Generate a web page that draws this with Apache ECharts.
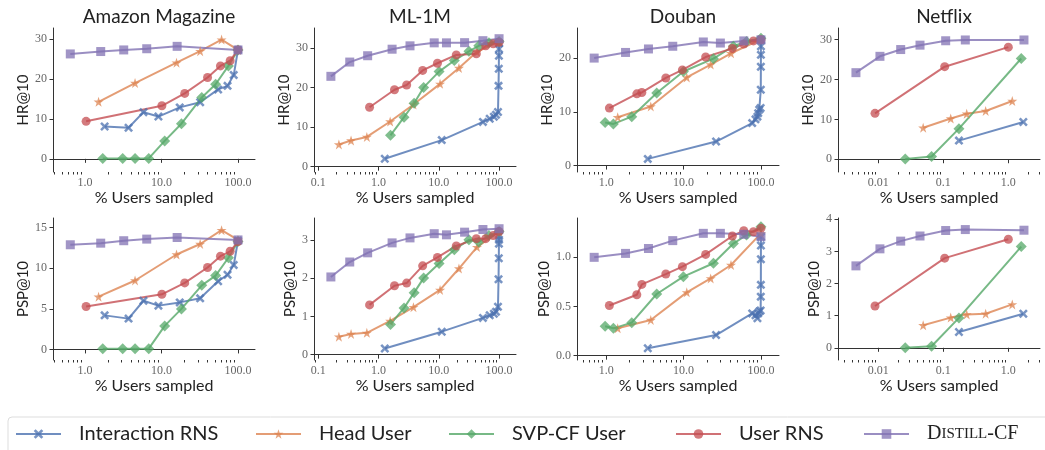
<!DOCTYPE html>
<html>
<head>
<meta charset="utf-8">
<script src="https://cdn.jsdelivr.net/npm/echarts@6/dist/echarts.min.js"></script>
<style>
html, body { margin: 0; padding: 0; background: #fff; }
#chart { width: 1045px; height: 450px; }
</style>
</head>
<body>
<div id="chart"></div>
<script>
// ---- data (x = % users sampled) ----
var methods = ['Interaction RNS', 'Head User', 'SVP-CF User', 'User RNS', 'Distill-CF'];
var datasets = ['Amazon Magazine', 'ML-1M', 'Douban', 'Netflix'];

// Amazon Magazine
var amazonInterX = [1.8, 3.7, 5.8, 9.1, 17.3, 32, 55, 73, 88, 100];
var amazonInterHR = [8.1, 7.8, 11.7, 10.6, 12.9, 14.2, 17.4, 18.3, 21.0, 27.3];
var amazonInterPSP = [4.2, 3.8, 6.0, 5.4, 5.8, 6.3, 8.4, 9.2, 10.4, 13.4];
var amazonHeadX = [1.5, 4.5, 15.7, 32, 61, 100];
var amazonHeadHR = [14.3, 19.0, 24.1, 27.0, 29.9, 27.3];
var amazonHeadPSP = [6.5, 8.5, 11.7, 13.0, 14.7, 13.5];
var amazonSvpX = [1.7, 3.1, 4.5, 6.8, 11.0, 18.2, 33.6, 51, 75, 100];
var amazonSvpHR = [0.1, 0.1, 0.1, 0.1, 4.5, 8.8, 15.4, 18.7, 23.3, 27.3];
var amazonSvpPSP = [0.1, 0.1, 0.1, 0.1, 2.9, 5.0, 7.9, 9.1, 11.3, 13.3];
var amazonUserX = [1.03, 10.1, 20.1, 40, 59, 79, 100];
var amazonUserHR = [9.4, 13.3, 16.4, 20.4, 23.3, 24.6, 27.3];
var amazonUserPSP = [5.3, 6.8, 8.2, 10.1, 11.5, 12.1, 13.3];
var amazonDistX = [0.64, 1.6, 3.2, 6.4, 16, 100];
var amazonDistHR = [26.3, 26.9, 27.3, 27.6, 28.2, 27.3];
var amazonDistPSP = [12.9, 13.1, 13.4, 13.6, 13.8, 13.5];

// ML-1M
var mlInterX = [1.27, 11.2, 54, 70, 82, 89, 96, 98, 99, 99.5, 99.8, 100];
var mlInterHR = [2.0, 6.7, 11.3, 12.1, 12.6, 13.1, 13.8, 20.4, 24.7, 28.0, 29.7, 31.2];
var mlInterPSP = [0.16, 0.6, 0.96, 1.03, 1.07, 1.12, 1.25, 1.97, 2.52, 2.9, 3.0, 3.1];
var mlHeadX = [0.22, 0.35, 0.64, 1.56, 3.8, 10.5, 21.6, 43, 100];
var mlHeadHR = [5.6, 6.6, 7.5, 11.4, 15.7, 20.9, 24.9, 29.0, 31.6];
var mlHeadPSP = [0.47, 0.54, 0.57, 0.88, 1.24, 1.69, 2.25, 2.81, 3.22];
var mlSvpX = [1.58, 2.65, 3.9, 5.6, 10.1, 18.1, 31.6, 46, 68, 100];
var mlSvpHR = [7.9, 12.5, 16.0, 20.0, 24.0, 26.8, 29.1, 30.5, 31.3, 31.6];
var mlSvpPSP = [0.79, 1.22, 1.62, 2.0, 2.38, 2.74, 3.0, 2.94, 3.11, 3.22];
var mlUserX = [0.71, 1.84, 2.93, 5.4, 9.5, 19.5, 42, 60, 80, 100];
var mlUserHR = [15.0, 19.4, 20.6, 24.3, 26.1, 28.2, 28.5, 30.5, 31.0, 31.4];
var mlUserPSP = [1.3, 1.8, 1.87, 2.32, 2.54, 2.84, 3.03, 3.03, 3.11, 3.22];
var mlDistX = [0.162, 0.333, 0.66, 1.68, 3.33, 8.4, 13.4, 26.8, 54, 100];
var mlDistHR = [22.8, 26.4, 28.0, 29.65, 30.5, 31.25, 31.25, 31.3, 31.8, 32.3];
var mlDistPSP = [2.03, 2.42, 2.66, 2.92, 3.05, 3.16, 3.13, 3.2, 3.27, 3.29];

// Douban
var doubanInterX = [3.45, 26.3, 77, 85, 90, 92, 95, 99, 99.5, 99.7, 99.8, 99.9, 100];
var doubanInterHR = [1.24, 4.47, 7.9, 8.6, 9.1, 9.75, 10.4, 10.7, 14.1, 18.4, 20.6, 22.2, 23.4];
var doubanInterPSP = [0.075, 0.21, 0.43, 0.41, 0.38, 0.43, 0.45, 0.46, 0.6, 0.72, 0.98, 1.12, 1.21];
var doubanHeadX = [1.41, 3.77, 11.0, 22.4, 41, 100];
var doubanHeadHR = [9.0, 11.0, 16.4, 18.8, 20.9, 23.5];
var doubanHeadPSP = [0.278, 0.363, 0.644, 0.786, 0.922, 1.244];
var doubanSvpX = [0.97, 1.24, 2.14, 4.5, 9.95, 24.3, 44, 65, 100];
var doubanSvpHR = [8.0, 7.75, 9.1, 13.5, 17.5, 19.9, 22.2, 23.1, 23.7];
var doubanSvpPSP = [0.30, 0.278, 0.336, 0.627, 0.803, 0.94, 1.14, 1.227, 1.31];
var doubanUserX = [1.1, 2.49, 2.89, 5.9, 9.66, 19.3, 42.7, 60, 80, 100];
var doubanUserHR = [10.7, 13.35, 13.6, 16.3, 17.8, 20.2, 21.8, 22.6, 23.2, 23.4];
var doubanUserPSP = [0.51, 0.62, 0.725, 0.83, 0.905, 1.03, 1.217, 1.27, 1.26, 1.295];
var doubanDistX = [0.70, 1.78, 3.52, 7.25, 18.0, 29.9, 60, 100];
var doubanDistHR = [20.0, 21.05, 21.7, 22.2, 23.0, 22.8, 23.2, 23.4];
var doubanDistPSP = [1.0, 1.04, 1.09, 1.17, 1.244, 1.244, 1.234, 1.21];

// Netflix
var netflixInterX = [0.174, 1.70];
var netflixInterHR = [4.67, 9.33];
var netflixInterPSP = [0.49, 1.06];
var netflixHeadX = [0.049, 0.13, 0.229, 0.448, 1.15];
var netflixHeadHR = [7.9, 10.2, 11.4, 12.1, 14.6];
var netflixHeadPSP = [0.70, 0.94, 1.04, 1.06, 1.35];
var netflixSvpX = [0.026, 0.066, 0.174, 1.58];
var netflixSvpHR = [0.08, 0.67, 7.67, 25.25];
var netflixSvpPSP = [0.0, 0.05, 0.93, 3.15];
var netflixUserX = [0.0089, 0.105, 1.0];
var netflixUserHR = [11.5, 23.2, 28.1];
var netflixUserPSP = [1.30, 2.79, 3.38];
var netflixDistX = [0.00453, 0.0106, 0.0221, 0.0438, 0.1087, 0.218, 1.74];
var netflixDistHR = [21.7, 25.8, 27.5, 28.6, 29.7, 29.9, 29.9];
var netflixDistPSP = [2.55, 3.08, 3.32, 3.48, 3.65, 3.68, 3.66];

// tick labels
var xMajor = [[1, 10, 100], [0.1, 1, 10, 100], [1, 10, 100], [0.01, 0.1, 1]];
var yTicksHR = [[0, 10, 20, 30], [0, 10, 20, 30], [0, 10, 20], [0, 10, 20, 30]];
var yTicksPSP = [[0, 5, 10, 15], [0, 1, 2, 3], [0, 0.5, 1.0], [0, 1, 2, 3, 4]];

// ---- layout ----
var colors = ['#4C72B0', '#DD8452', '#55A868', '#C44E52', '#8172B3'];
var SYM_X = 'path://M0,2L2,0L5,3L8,0L10,2L7,5L10,8L8,10L5,7L2,10L0,8L3,5Z';
var SYM_STAR = 'path://M50,0L61.8,35.5L99,35.5L69,57.5L80.3,93L50,71L19.7,93L31,57.5L1,35.5L38.2,35.5Z';
var symbols = [SYM_X, SYM_STAR, 'diamond', 'circle', 'rect'];
var symSizes = [9, 10, 11, 9, 9];

var colLeft = [53, 314, 577, 838];
var colWidth = 202;
var rowTop = [28, 218];
var rowHeight = [144, 142];
var xRange = [[0.38, 167], [0.085, 191], [0.42, 171], [0.0024, 3.07]];
var yRangeHR = [[-3.3, 32.8], [-1.35, 35], [-1.2, 25.6], [-3.2, 32.9]];
var yRangePSP = [[-1.3, 16.2], [-0.14, 3.57], [-0.044, 1.40], [-0.38, 4.04]];
var yNameGap = [[18, 17, 18, 19], [19, 13, 23, 13]];

var table = [
    { x: [amazonInterX, amazonHeadX, amazonSvpX, amazonUserX, amazonDistX],
      hr: [amazonInterHR, amazonHeadHR, amazonSvpHR, amazonUserHR, amazonDistHR],
      psp: [amazonInterPSP, amazonHeadPSP, amazonSvpPSP, amazonUserPSP, amazonDistPSP] },
    { x: [mlInterX, mlHeadX, mlSvpX, mlUserX, mlDistX],
      hr: [mlInterHR, mlHeadHR, mlSvpHR, mlUserHR, mlDistHR],
      psp: [mlInterPSP, mlHeadPSP, mlSvpPSP, mlUserPSP, mlDistPSP] },
    { x: [doubanInterX, doubanHeadX, doubanSvpX, doubanUserX, doubanDistX],
      hr: [doubanInterHR, doubanHeadHR, doubanSvpHR, doubanUserHR, doubanDistHR],
      psp: [doubanInterPSP, doubanHeadPSP, doubanSvpPSP, doubanUserPSP, doubanDistPSP] },
    { x: [netflixInterX, netflixHeadX, netflixSvpX, netflixUserX, netflixDistX],
      hr: [netflixInterHR, netflixHeadHR, netflixSvpHR, netflixUserHR, netflixDistHR],
      psp: [netflixInterPSP, netflixHeadPSP, netflixSvpPSP, netflixUserPSP, netflixDistPSP] }
];

function minorTicks(min, max) {
    var out = [];
    for (var k = -4; k <= 3; k++) {
        for (var m = 2; m <= 9; m++) {
            var v = m * Math.pow(10, k);
            if (v > min && v < max) out.push(v);
        }
    }
    return out;
}

function fmtX(v) {
    v = Number(v.toPrecision(6));
    return v < 1 ? String(v) : v.toFixed(1);
}

var grids = [], xAxes = [], yAxes = [], series = [], titles = [];
var axisColor = '#333';
var tickFont = { fontFamily: 'Liberation Serif', fontSize: 12, color: '#666' };
var nameFont = { fontFamily: 'Lato', fontSize: 16, color: '#222' };

for (var r = 0; r < 2; r++) {
    for (var c = 0; c < 4; c++) {
        var gi = r * 4 + c;
        grids.push({ left: colLeft[c], top: rowTop[r], width: colWidth, height: rowHeight[r] });

        // main log x axis
        xAxes.push({
            type: 'log', logBase: 10, gridIndex: gi, position: 'bottom',
            min: xRange[c][0], max: xRange[c][1],
            name: '% Users sampled', nameLocation: 'middle', nameGap: r === 0 ? 15 : 14,
            nameTextStyle: nameFont,
            axisLine: { lineStyle: { color: axisColor, width: 1 } },
            axisTick: { show: true, length: 4, lineStyle: { color: axisColor }, customValues: xMajor[c] },
            axisLabel: Object.assign({ margin: 5, customValues: xMajor[c], formatter: fmtX }, tickFont),
            splitLine: { show: false }
        });
        // minor ticks
        xAxes.push({
            type: 'log', logBase: 10, gridIndex: gi, position: 'bottom',
            min: xRange[c][0], max: xRange[c][1],
            axisLine: { show: false },
            axisTick: { show: true, length: 2.5, lineStyle: { color: axisColor }, customValues: minorTicks(xRange[c][0], xRange[c][1]) },
            axisLabel: { show: false },
            splitLine: { show: false }
        });

        var yr = r === 0 ? yRangeHR[c] : yRangePSP[c];
        var yt = r === 0 ? yTicksHR[c] : yTicksPSP[c];
        yAxes.push({
            type: 'value', gridIndex: gi,
            min: yr[0], max: yr[1],
            name: r === 0 ? 'HR@10' : 'PSP@10', nameLocation: 'middle', nameRotate: 90,
            nameGap: yNameGap[r][c],
            nameTextStyle: { fontFamily: 'Lato', fontSize: 15, color: '#222' },
            axisLine: { show: true, lineStyle: { color: axisColor, width: 1 } },
            axisTick: { show: true, length: 3.5, lineStyle: { color: axisColor }, customValues: yt },
            axisLabel: Object.assign({
                margin: 6, customValues: yt,
                formatter: (r === 1 && c === 2) ? function (v) { return v.toFixed(1); } : function (v) { return String(v); }
            }, tickFont),
            splitLine: { show: false }
        });

        var ys = r === 0 ? table[c].hr : table[c].psp;
        for (var m = 0; m < methods.length; m++) {
            var xs = table[c].x[m];
            var pts = xs.map(function (x, i) { return [x, ys[m][i]]; });
            series.push({
                type: 'line', name: methods[m],
                xAxisIndex: gi * 2, yAxisIndex: gi,
                data: pts,
                symbol: symbols[m], symbolSize: symSizes[m],
                showAllSymbol: true,
                itemStyle: { color: colors[m], opacity: 0.75 },
                lineStyle: { color: colors[m], width: 2, opacity: 0.8 },
                emphasis: { disabled: true },
                clip: false
            });
        }
    }
}

for (var c2 = 0; c2 < 4; c2++) {
    titles.push({
        text: datasets[c2], left: colLeft[c2] + colWidth / 2, top: 2, textAlign: 'center',
        textStyle: { fontFamily: 'Lato', fontSize: 19, fontWeight: 'normal', color: '#222' }
    });
}

var legX = [15, 255, 448, 675, 863];
var legends = methods.map(function (name, i) {
    return {
        data: [name], left: legX[i], top: 424, padding: 0,
        itemWidth: 45, itemHeight: 12, selectedMode: false,
        formatter: function (n) { return n === 'Distill-CF' ? '{a|D}{b|ISTILL}{a|-CF}' : n; },
        textStyle: {
            fontFamily: 'Lato', fontSize: 20, color: '#222', padding: [0, 0, 0, 13],
            rich: {
                a: { fontFamily: 'Liberation Serif', fontSize: 20, color: '#222' },
                b: { fontFamily: 'Liberation Serif', fontSize: 15, color: '#222' }
            }
        }
    };
});

var myChart = echarts.init(document.getElementById('chart'));
var option = {
    animation: false,
    backgroundColor: '#fff',
    title: titles,
    legend: legends,
    grid: grids,
    xAxis: xAxes,
    yAxis: yAxes,
    series: series,
    graphic: [{
        type: 'rect', silent: true, z: -1,
        shape: { x: 8, y: 417, width: 1050, height: 40, r: 4 },
        style: { fill: '#fff', stroke: '#ddd', lineWidth: 1 }
    }]
};
myChart.setOption(option);
</script>
</body>
</html>
